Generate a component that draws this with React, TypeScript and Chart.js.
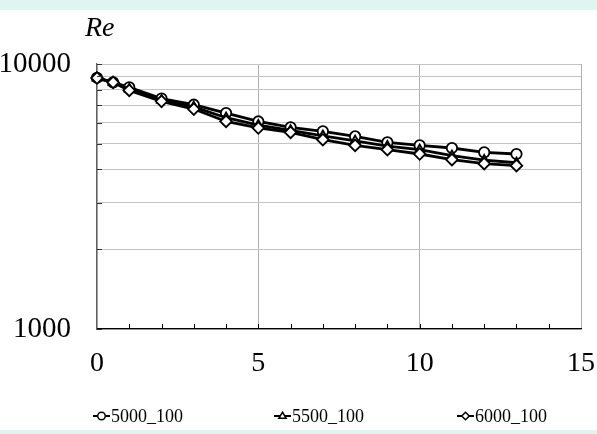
import React, { useEffect, useRef } from "react";
import { Chart, registerables } from "chart.js";

Chart.register(...registerables);

const xValues = [0, 0.5, 1, 2, 3, 4, 5, 6, 7, 8, 9, 10, 11, 12, 13];
const series5000 = [8870, 8520, 8160, 7400, 7020, 6530, 6070, 5770, 5570, 5330, 5060, 4930, 4820, 4640, 4575];
const series5500 = [8850, 8520, 8050, 7300, 6890, 6270, 5880, 5620, 5360, 5130, 4900, 4750, 4510, 4340, 4240];
const series6000 = [8855, 8520, 7950, 7230, 6760, 6070, 5735, 5520, 5180, 4930, 4750, 4575, 4355, 4206, 4133];
const seriesNames = ["5000_100", "5500_100", "6000_100"];
const pointStyles = ["circle", "triangle", "rectRot"];
const yTicks = [1000, 2000, 3000, 4000, 5000, 6000, 7000, 8000, 9000, 10000];
const yLabeled = [1000, 10000];
const xTicks = [0, 5, 10, 15];

const SERIF = "'Liberation Serif', 'Times New Roman', serif";
const BAND = "#dff5f1";

function drawMarker(ctx: CanvasRenderingContext2D, style: string, x: number, y: number, r: number) {
  ctx.beginPath();
  if (style === "circle") {
    ctx.arc(x, y, r, 0, Math.PI * 2);
  } else if (style === "triangle") {
    ctx.moveTo(x, y - r);
    ctx.lineTo(x + r * 0.95, y + r * 0.6);
    ctx.lineTo(x - r * 0.95, y + r * 0.6);
    ctx.closePath();
  } else {
    ctx.moveTo(x, y - r);
    ctx.lineTo(x + r, y);
    ctx.lineTo(x, y + r);
    ctx.lineTo(x - r, y);
    ctx.closePath();
  }
  ctx.fillStyle = "#fff";
  ctx.fill();
  ctx.stroke();
}

const decorPlugin = {
  id: "decor",
  beforeDraw(chart: any) {
    const { ctx, width, height } = chart;
    ctx.save();
    ctx.fillStyle = "#fff";
    ctx.fillRect(0, 0, width, height);
    ctx.fillStyle = BAND;
    ctx.fillRect(0, 0, width, 10);
    ctx.fillRect(0, height - 4, width, 4);
    ctx.restore();
  },
  afterDatasetsDraw(chart: any) {
    const { ctx, chartArea } = chart;
    const xs = chart.scales.x;
    const ys = chart.scales.y;
    ctx.save();
    ctx.strokeStyle = "#333";
    ctx.lineWidth = 1;
    for (const v of yTicks) {
      const py = Math.round(ys.getPixelForValue(v)) + 0.5;
      ctx.beginPath();
      ctx.moveTo(chartArea.left, py);
      ctx.lineTo(chartArea.left + 5, py);
      ctx.stroke();
    }
    ctx.strokeStyle = "#000";
    for (let v = 1; v < 15; v++) {
      const px = Math.round(xs.getPixelForValue(v)) + 0.5;
      ctx.beginPath();
      ctx.moveTo(px, chartArea.bottom);
      ctx.lineTo(px, chartArea.bottom - 5);
      ctx.stroke();
    }
    ctx.fillStyle = "#000";
    ctx.font = `italic 28px ${SERIF}`;
    ctx.textAlign = "left";
    ctx.textBaseline = "alphabetic";
    ctx.fillText("Re", 85, 36);
    const legendY = 416;
    const starts = [93, 274, 457];
    ctx.font = `18px ${SERIF}`;
    ctx.textBaseline = "middle";
    for (let i = 0; i < 3; i++) {
      const x0 = starts[i];
      ctx.strokeStyle = "#000";
      ctx.lineWidth = 2;
      ctx.beginPath();
      ctx.moveTo(x0, legendY);
      ctx.lineTo(x0 + 17, legendY);
      ctx.stroke();
      ctx.lineWidth = 1.5;
      drawMarker(ctx, pointStyles[i], x0 + 8.5, legendY, 3.8);
      ctx.fillStyle = "#000";
      ctx.fillText(seriesNames[i], x0 + 18, legendY + 1);
    }
    ctx.restore();
  },
};

export default function App() {
  const ref = useRef<HTMLCanvasElement | null>(null);
  useEffect(() => {
    document.body.style.margin = "0";
    const canvas = ref.current!;
    const allSeries = [series5000, series5500, series6000];
    const chart = new Chart(canvas, {
      type: "line",
      data: {
        datasets: allSeries.map((s, i) => ({
          label: seriesNames[i],
          data: xValues.map((x, j) => ({ x, y: s[j] })),
          borderColor: "#000",
          borderWidth: 2.8,
          pointStyle: pointStyles[i] as any,
          pointRadius: i === 2 ? 5.8 : 5.2,
          pointBackgroundColor: "#fff",
          pointBorderColor: "#000",
          pointBorderWidth: 1.8,
          tension: 0,
          clip: false as any,
          order: 3 - i,
        })),
      },
      options: {
        animation: false,
        responsive: false,
        layout: { padding: { left: 0, right: 16, top: 64, bottom: 0 } },
        plugins: { legend: { display: false }, tooltip: { enabled: false }, title: { display: false } },
        scales: {
          x: {
            type: "linear",
            min: 0,
            max: 15,
            afterBuildTicks: (scale: any) => {
              scale.ticks = xTicks.map((v) => ({ value: v }));
            },
            afterFit: (scale: any) => {
              scale.height = 105;
              scale.paddingRight = 0;
              scale.paddingLeft = 0;
            },
            ticks: {
              color: "#000",
              font: { family: SERIF, size: 28 },
              padding: 18,
              maxRotation: 0,
              autoSkip: false,
            },
            grid: { color: "#b0b0b0", lineWidth: 1, drawTicks: false },
            border: { color: "#000", width: 1.2 },
          },
          y: {
            type: "logarithmic",
            min: 1000,
            max: 10000,
            afterBuildTicks: (scale: any) => {
              scale.ticks = yTicks.map((v) => ({ value: v }));
            },
            afterFit: (scale: any) => {
              scale.width = 97;
              scale.paddingTop = 0;
              scale.paddingBottom = 0;
            },
            ticks: {
              color: "#000",
              font: { family: SERIF, size: 29 },
              padding: 26,
              autoSkip: false,
              callback: (v: any) => (yLabeled.includes(Number(v)) ? String(v) : ""),
            },
            grid: { color: "#c4c4c4", lineWidth: 1, drawTicks: false },
            border: { color: "#606060", width: 1.2 },
          },
        },
      },
      plugins: [decorPlugin],
    });
    return () => chart.destroy();
  }, []);
  return <canvas ref={ref} width={597} height={434} style={{ display: "block" }} />;
}
